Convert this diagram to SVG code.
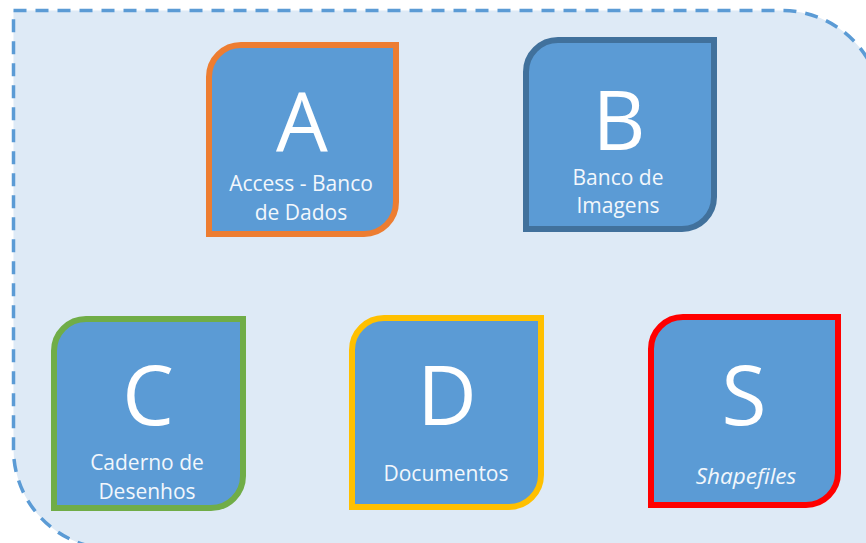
<svg xmlns="http://www.w3.org/2000/svg" width="866" height="543" viewBox="0 0 866 543">
<style>
.card{fill:#5b9bd5;stroke-width:6;stroke-linejoin:miter}
text{fill:#fff;font-family:"Open Sans","Noto Sans",sans-serif;text-anchor:middle}
.big{font-size:82px;font-weight:400}
.sub{font-size:21px;fill:#f2f7fc}
</style>
<rect width="866" height="543" fill="#fff"/>
<path id="frame" d="M13.5 10.5H782A100 100 0 0 1 882 110.500V549H113A100 100 0 0 1 13.500 449Z" fill="#deeaf6" stroke="#5b9bd5" stroke-width="3.5" stroke-dasharray="13 9"/>
<g id="connectors"></g>
<g id="node-a"><path class="card" stroke="#ed7d31" d="M209 234V77A32 32 0 0 1 241 45H396V202A32 32 0 0 1 364 234Z"/>
<text class="big" x="302" y="152">A</text><text class="sub" x="301" y="191">Access - Banco</text><text class="sub" x="301" y="220">de Dados</text></g>
<g id="node-b"><path class="card" stroke="#41719c" d="M526 229V72A32 32 0 0 1 558 40H714V197A32 32 0 0 1 682 229Z"/>
<text class="big" x="619" y="150">B</text><text class="sub" x="618" y="185">Banco de</text><text class="sub" x="618" y="213">Imagens</text></g>
<g id="node-c"><path class="card" stroke="#70ad47" d="M54 508V351A32 32 0 0 1 86 319H243V476A32 32 0 0 1 211 508Z"/>
<text class="big" x="148" y="425">C</text><text class="sub" x="147" y="470">Caderno de</text><text class="sub" x="147" y="499">Desenhos</text></g>
<g id="node-d"><path class="card" stroke="#ffc000" d="M352 507V350A32 32 0 0 1 384 318H541V475A32 32 0 0 1 509 507Z"/>
<text class="big" x="447" y="425">D</text><text class="sub" x="446" y="481">Documentos</text></g>
<g id="node-s"><path class="card" stroke="#ff0000" d="M651 505V349A32 32 0 0 1 683 317H838V473A32 32 0 0 1 806 505Z"/>
<text class="big" x="744" y="425">S</text><text class="sub" x="746" y="484" font-style="italic" style="font-size:22.500px">Shapefiles</text></g>
</svg>
